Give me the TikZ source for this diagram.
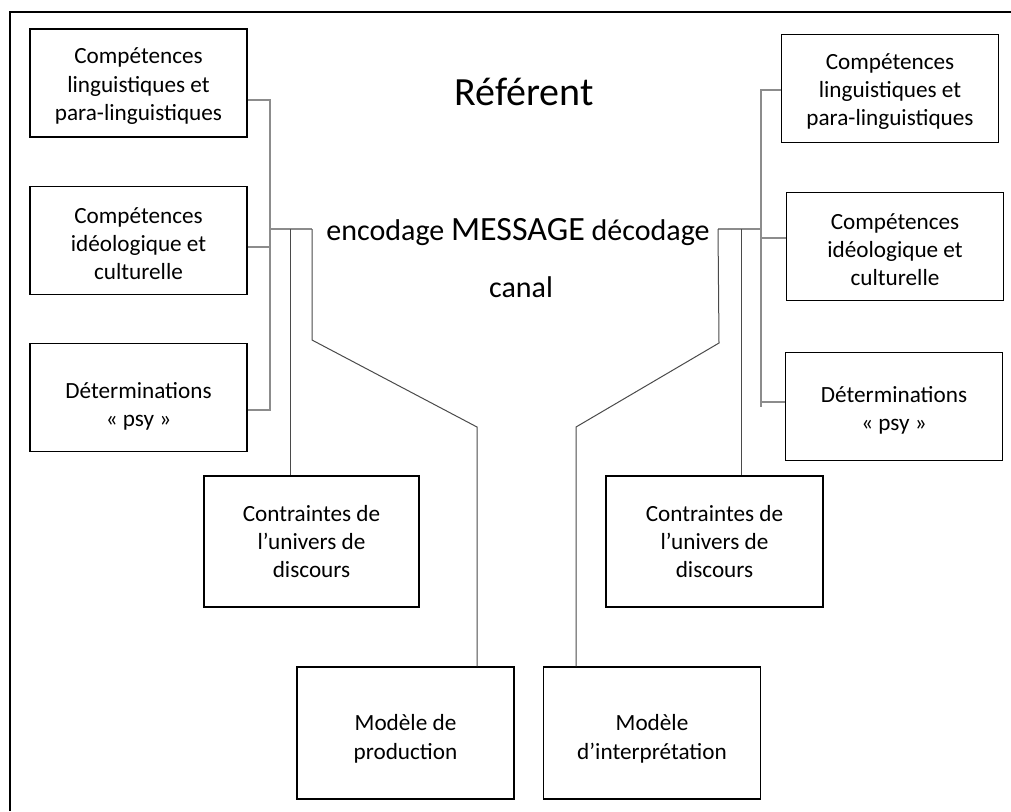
\documentclass[tikz,border=0pt]{standalone}
\usepackage{fontspec}
\setmainfont{Carlito}
\definecolor{linkgray}{HTML}{8C8C8C}
\definecolor{linkdark}{HTML}{4A4A4A}
% first line pushed down a little, as in the original text boxes
\newcommand{\boxpad}[1]{\rule{0pt}{#1}}
\begin{document}
\begin{tikzpicture}[x=0.5pt,y=-0.5pt,
    box/.style={draw, line width=0.75pt, align=center, inner sep=0pt,
      minimum width=108.5pt, minimum height=54pt,
      font=\fontsize{11.6}{14.2}\selectfont},
    bus/.style={draw=linkgray, line width=0.6pt},
    wire/.style={draw=linkdark, line width=0.5pt}]
  \useasboundingbox (0,0) rectangle (1011,811);
  \draw [line width=1pt] (10,811) -- (10,12) -- (1011,12);

  % emetteur
  \node [box] (lcomp1) at (138.5,83) {\boxpad{11pt}Compétences\\linguistiques et\\para-linguistiques};
  \node [box] (lcomp2) at (138.5,240.5) {\boxpad{11pt}Compétences\\idéologique et\\culturelle};
  \node [box] (ldet) at (138.5,397.5) {\boxpad{17pt}Déterminations\\« psy »};
  \node [box, minimum width=107.5pt, minimum height=65.5pt] (lcontr) at (311.5,541.5) {Contraintes de\\l’univers de\\discours};
  \node [box, minimum height=66pt] (lmodel) at (405.5,733) {\boxpad{14pt}Modèle de\\production};

  % recepteur
  \node [box] (rcomp1) at (890,88.5) {\boxpad{11pt}Compétences\\linguistiques et\\para-linguistiques};
  \node [box] (rcomp2) at (895,246.5) {\boxpad{11pt}Compétences\\idéologique et\\culturelle};
  \node [box] (rdet) at (894,406.5) {\boxpad{12pt}Déterminations\\« psy »};
  \node [box, minimum height=65.5pt] (rcontr) at (714.5,541.5) {Contraintes de\\l’univers de\\discours};
  \node [box, minimum height=66pt] (rmodel) at (652,733) {\boxpad{14pt}Modèle\\d’interprétation};

  % textes
  \node [anchor=base, font=\fontsize{20}{24}\selectfont] (ref) at (524,105) {Référent};
  \node [anchor=base, font=\fontsize{15}{18}\selectfont] (msg) at (518,240)
    {encodage {\fontsize{17}{20}\selectfont MESSAGE} décodage};
  \node [anchor=base, font=\fontsize{15}{18}\selectfont] (canal) at (521,297) {canal};

  % accolade gauche
  \coordinate (lb1) at (270,100);
  \coordinate (lb2) at (270,247);
  \coordinate (lb3) at (270,410);
  \coordinate (lj) at (270,229);
  \coordinate (lf) at (312,229);
  \draw [bus] (lb1 -| lcomp1.east) -- (lb1) -- (lb3) -- (lb3 -| ldet.east);
  \draw [bus] (lb2 -| lcomp2.east) -- (lb2);
  \draw [bus] (lj) -- (lf);
  \draw [wire] (290,229) -- (290,229 |- lcontr.north);
  \draw [wire] (lf) -- (312,340) -- (477,427) -- (477,427 |- lmodel.north);

  % accolade droite
  \coordinate (rb1) at (761,90);
  \coordinate (rb2) at (761,238);
  \coordinate (rb3) at (761,402);
  \coordinate (rj) at (761,229);
  \coordinate (rf) at (718,229);
  \draw [bus] (rb1 -| rcomp1.west) -- (rb1) -- (761,407);
  \draw [bus] (rb2) -- (rb2 -| rcomp2.west);
  \draw [bus] (rb3) -- (rb3 -| rdet.west);
  \draw [bus] (rf) -- (rj);
  \draw [wire] (741,229) -- (741,229 |- rcontr.north);
  \draw [wire] (rf) -- (719,343) -- (576,427) -- (576,427 |- rmodel.north);
\end{tikzpicture}
\end{document}
